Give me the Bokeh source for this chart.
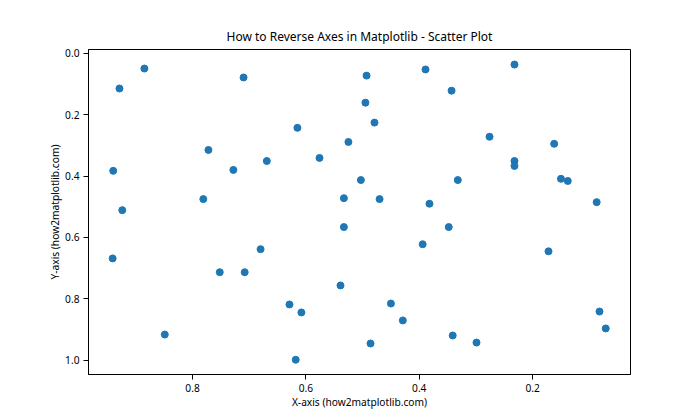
from bokeh.plotting import figure
from bokeh.models import Range1d, FixedTicker, ColumnDataSource, CustomJSTickFormatter
from bokeh.embed import file_html
from bokeh.resources import INLINE

x_vals = [0.885, 0.929, 0.710, 0.493, 0.495, 0.479, 0.615, 0.525, 0.772, 0.576,
          0.669, 0.940, 0.728, 0.503, 0.781, 0.533, 0.470, 0.924, 0.389, 0.232,
          0.343, 0.276, 0.162, 0.232, 0.232, 0.332, 0.150, 0.138, 0.382, 0.087,
          0.348, 0.394, 0.172, 0.450, 0.429, 0.341, 0.299, 0.082, 0.071, 0.533,
          0.680, 0.941, 0.752, 0.708, 0.539, 0.629, 0.608, 0.849, 0.486, 0.618]
y_vals = [0.050, 0.115, 0.079, 0.073, 0.161, 0.226, 0.243, 0.289, 0.315, 0.341,
          0.351, 0.383, 0.380, 0.413, 0.475, 0.472, 0.475, 0.511, 0.053, 0.037,
          0.122, 0.272, 0.295, 0.351, 0.367, 0.413, 0.409, 0.416, 0.490, 0.485,
          0.566, 0.622, 0.645, 0.815, 0.870, 0.919, 0.942, 0.841, 0.896, 0.566,
          0.638, 0.668, 0.713, 0.713, 0.756, 0.818, 0.844, 0.916, 0.945, 0.998]
x_ticks = [0.2, 0.4, 0.6, 0.8]
y_ticks = [0.0, 0.2, 0.4, 0.6, 0.8, 1.0]

FONT = "Noto Sans"

p = figure(width=684, height=411, output_backend="svg", toolbar_location=None,
           x_range=Range1d(0.9836, 0.0273), y_range=Range1d(1.046, -0.012),
           min_border_left=88, min_border_right=54, min_border_top=49, min_border_bottom=30,
           title="How to Reverse Axes in Matplotlib - Scatter Plot")

src = ColumnDataSource(dict(x=x_vals, y=y_vals))
p.scatter("x", "y", source=src, size=7, fill_color="#1f77b4", line_color="#1f77b4")

p.title.align = "center"
p.title.text_font = FONT
p.title.text_font_size = "12px"
p.title.text_font_style = "normal"
p.title.text_color = "black"

p.xaxis.ticker = FixedTicker(ticks=x_ticks)
p.yaxis.ticker = FixedTicker(ticks=y_ticks)
fmt = CustomJSTickFormatter(code="return tick.toFixed(1);")
p.xaxis.formatter = fmt
p.yaxis.formatter = fmt
p.xaxis.axis_label = "X-axis (how2matplotlib.com)"
p.yaxis.axis_label = "Y-axis (how2matplotlib.com)"

for ax in (p.xaxis, p.yaxis):
    ax.axis_label_text_font = FONT
    ax.axis_label_text_font_size = "10.2px"
    ax.axis_label_text_font_style = "normal"
    ax.axis_label_text_color = "black"
    ax.major_label_text_font = FONT
    ax.major_label_text_font_size = "10.2px"
    ax.major_label_text_color = "black"
    ax.minor_tick_line_color = None
    ax.major_tick_out = 5
    ax.major_tick_in = 0
    ax.major_tick_line_color = "black"
    ax.axis_line_color = "black"
    ax.major_label_standoff = 4

p.xaxis.axis_label_standoff = 0
p.yaxis.axis_label_standoff = 0

p.grid.visible = False
p.outline_line_color = "black"
p.outline_line_width = 1
p.outline_line_alpha = 1

open("out.html", "w").write(file_html(p, INLINE))
